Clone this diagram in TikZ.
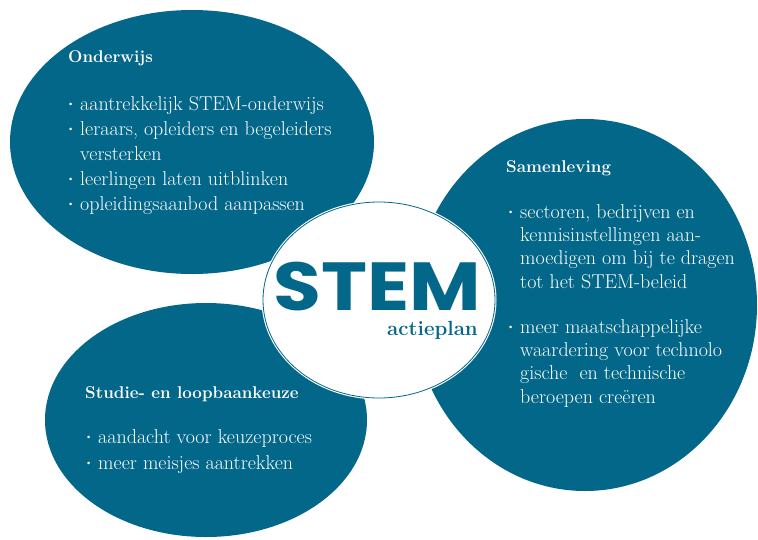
\documentclass[tikz,border=0pt]{standalone}
\usepackage{fontspec}
\newfontfamily\stemfont{Poppins}
\usetikzlibrary{shapes.geometric}

\definecolor{stemblue}{RGB}{3,103,138}

% bullet and hanging indent for the item lists
\newcommand\stembul{\makebox[13pt][l]{\raisebox{.45ex}{\fontsize{9}{9}\selectfont\textbullet}}}
\newcommand\stemind{\hspace*{13pt}}

\begin{document}
\begin{tikzpicture}[%
    x=1pt, y=-1pt,              % Work in pixel-like units, y pointing down
    ]
% -------------------------------------------------
% Styles for the bubbles and their texts
% (multi-line texts sit on the baseline of their last line)
\tikzset{
  blob/.style={ellipse, fill=stemblue, inner sep=0pt},
  hub/.style={ellipse, fill=white, draw=stemblue, line width=0.8pt,
    preaction={draw=white, line width=3pt}, inner sep=0pt},
  head/.style={anchor=base west, inner sep=0pt, text=white,
    font=\fontsize{17}{20}\selectfont\bfseries},
  txt/.style={anchor=base west, inner sep=0pt, text=white, align=left}
}
\useasboundingbox (0,0) rectangle (758,539);
% -------------------------------------------------
% The three outer bubbles, then the hub on top
\node [blob, minimum width=364pt, minimum height=264pt] (onderwijs) at (192,142) {};
\node [blob, minimum width=322pt, minimum height=234pt] (keuze) at (206,420) {};
\node [blob, minimum width=344pt, minimum height=372pt] (samenleving) at (585,305) {};
\node [hub, minimum width=232pt, minimum height=196pt] (stem) at (379,300) {};

% -------------------------------------------------
% Texts
\node [head] (onderwijs-t) at (68,62) {Onderwijs};
\node [txt, font=\fontsize{20}{25}\selectfont] (onderwijs-l) at (67,210)
  {\stembul aantrekkelijk STEM-onderwijs\\
   \stembul leraars, opleiders en begeleiders\\
   \stemind versterken\\
   \stembul leerlingen laten uitblinken\\
   \stembul opleidingsaanbod aanpassen};

\node [head] (samenleving-t) at (506,172) {Samenleving};
\node [txt, font=\fontsize{20}{23.3}\selectfont] (samenleving-l) at (507,403)
  {\stembul sectoren, bedrijven en\\
   \stemind kennisinstellingen aan-\\
   \stemind moedigen om bij te dragen\\
   \stemind tot het STEM-beleid\\[21.7pt]
   \stembul meer maatschappelijke\\
   \stemind waardering voor technolo\\
   \stemind gische\ \ en technische\\
   \stemind beroepen creëren};

\node [head] (keuze-t) at (85,398) {Studie- en loopbaankeuze};
\node [txt, font=\fontsize{20}{26}\selectfont] (keuze-l) at (85,469)
  {\stembul aandacht voor keuzeproces\\
   \stembul meer meisjes aantrekken};

\node [anchor=base west, inner sep=0pt, text=stemblue,
  font=\stemfont\bfseries\fontsize{68}{68}\selectfont] (stem-t) at (273,310)
  {\scalebox{1.145}[1]{STEM}};
\node [anchor=base east, inner sep=0pt, text=stemblue,
  font=\fontsize{20.5}{20.5}\selectfont\bfseries] (stem-p) at (478,335) {actieplan};
% -------------------------------------------------
\end{tikzpicture}
\end{document}
